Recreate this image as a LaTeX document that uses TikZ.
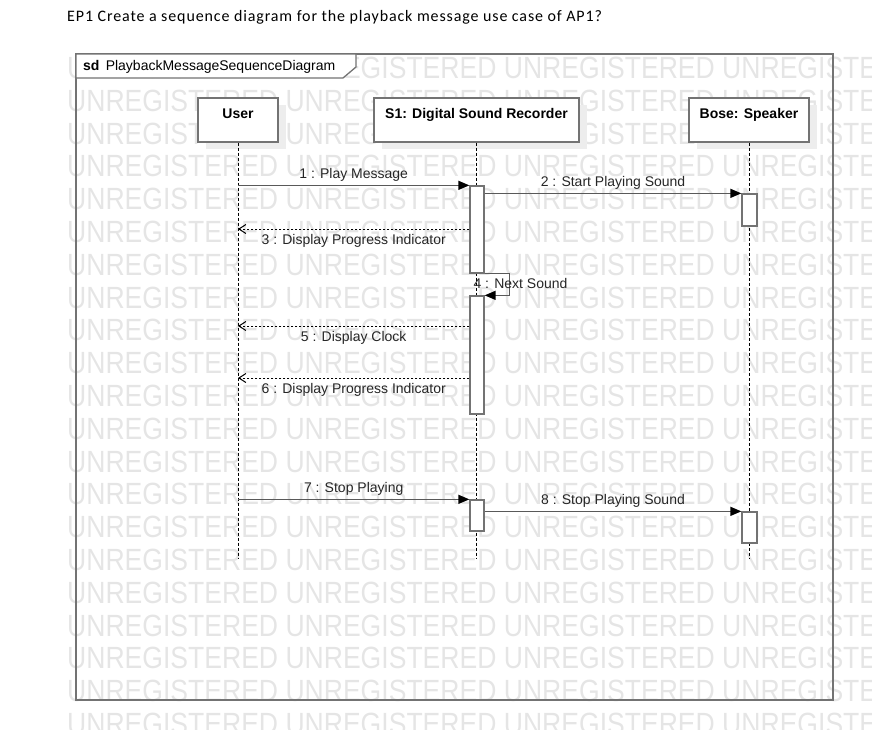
\documentclass[tikz,border=0pt]{standalone}
\usepackage{fontspec}
\setmainfont{Liberation Sans}
\newfontfamily\titlefont[LetterSpace=5.5]{Carlito}
\usetikzlibrary{arrows.meta,shadows}

\definecolor{wmark}{gray}{0.9}
\definecolor{edge}{gray}{0.45}
\definecolor{msgline}{gray}{0.35}

\begin{document}
\begin{tikzpicture}[x=1pt, y=-1pt,
    head/.style={draw=edge, line width=1.3pt, fill=white, minimum height=44pt,
      text height=10pt, text depth=14pt, inner sep=0pt,
      font=\fontsize{14}{16}\selectfont\bfseries,
      general shadow={fill=black!7, shadow xshift=8pt, shadow yshift=-7pt}},
    bar/.style={draw=edge, line width=1.3pt, fill=white, minimum width=14pt, inner sep=0pt},
    lifeline/.style={line width=1pt, dash pattern=on 3pt off 2pt},
    msg/.style={draw=msgline, line width=1.4pt, -{Triangle[length=11pt,width=9pt,color=black]}},
    reply/.style={line width=1pt, dash pattern=on 2pt off 2pt, -{Straight Barb[length=7pt,width=9pt]}},
    lbl/.style={font=\fontsize{14}{16}\selectfont, text=black!85, inner sep=0pt},
    wm/.style={font=\fontsize{30.7}{32}\selectfont, text=wmark, xscale=0.865, anchor=west, inner sep=0pt}
  ]
    \useasboundingbox (0,0) rectangle (872,729);

    % watermark rows
    \foreach \k in {0,...,20}
      \node[wm] (wm\k) at (67,{68+32.8*\k}) {UNREGISTERED UNREGISTERED UNREGISTERED UNREGISTERED};

    \node[anchor=base west, inner sep=0pt, font=\titlefont\fontsize{16}{18}\selectfont] (title) at (67,21)
      {EP1 Create a sequence diagram for the playback message use case of AP1?};

    % frame and tab
    \draw[edge, line width=1.5pt] (76,54) rectangle (833,700);
    \draw[edge, line width=1.3pt, fill=white] (76,54) -- (356,54) -- (356,67) -- (343,78) -- (76,78) -- cycle;
    \node[anchor=west, inner sep=0pt, font=\fontsize{14}{16}\selectfont] (sd) at (83,66.5)
      {\textbf{sd}\, PlaybackMessageSequenceDiagram};

    % lifelines
    \coordinate (lifeEnd) at (0,558);
    \node[head, minimum width=80pt] (user) at (238,120) {User};
    \node[head, minimum width=205pt] (rec) at (476.5,120) {S1: Digital Sound Recorder};
    \node[head, minimum width=120pt] (spk) at (749,120) {Bose: Speaker};
    \draw[lifeline] (user.south) -- (user.south |- lifeEnd);
    \draw[lifeline] (rec.south) -- (rec.south |- lifeEnd);
    \draw[lifeline] (spk.south) -- (spk.south |- lifeEnd);

    % activations
    \node[bar, minimum height=87pt] (s1a) at (477,229.5) {};
    \node[bar, minimum height=118pt] (s1b) at (477,355) {};
    \node[bar, minimum height=31pt] (s1c) at (477,515.5) {};
    \node[bar, minimum width=15pt, minimum height=32pt] (spkA) at (749.5,210) {};
    \node[bar, minimum width=15pt, minimum height=31pt] (spkB) at (749.5,527.5) {};

    % messages
    \coordinate (r3) at (0,229);
    \coordinate (r5) at (0,326);
    \coordinate (r6) at (0,378);
    \draw[msg] (user.south |- s1a.north) -- (s1a.north west) node[lbl, midway, above=3pt] {1 : Play Message};
    \draw[msg] (s1a.east |- spkA.north) -- (spkA.north west) node[lbl, midway, above=3pt] {2 : Start Playing Sound};
    \draw[reply] (s1a.west |- r3) -- (user.south |- r3) node[lbl, midway, below=5pt] {3 : Display Progress Indicator};
    \draw[msg] (s1a.south east) -- ++(25,0) |- (s1b.north east);
    \node[lbl] (m4) at (520.5,283) {4 : Next Sound};
    \draw[reply] (s1b.west |- r5) -- (user.south |- r5) node[lbl, midway, below=5pt] {5 : Display Clock};
    \draw[reply] (s1b.west |- r6) -- (user.south |- r6) node[lbl, midway, below=5pt] {6 : Display Progress Indicator};
    \draw[msg] (user.south |- s1c.north) -- (s1c.north west) node[lbl, midway, above=3pt] {7 : Stop Playing};
    \draw[msg] (s1c.east |- spkB.north) -- (spkB.north west) node[lbl, midway, above=3pt] {8 : Stop Playing Sound};

\end{tikzpicture}
\end{document}
